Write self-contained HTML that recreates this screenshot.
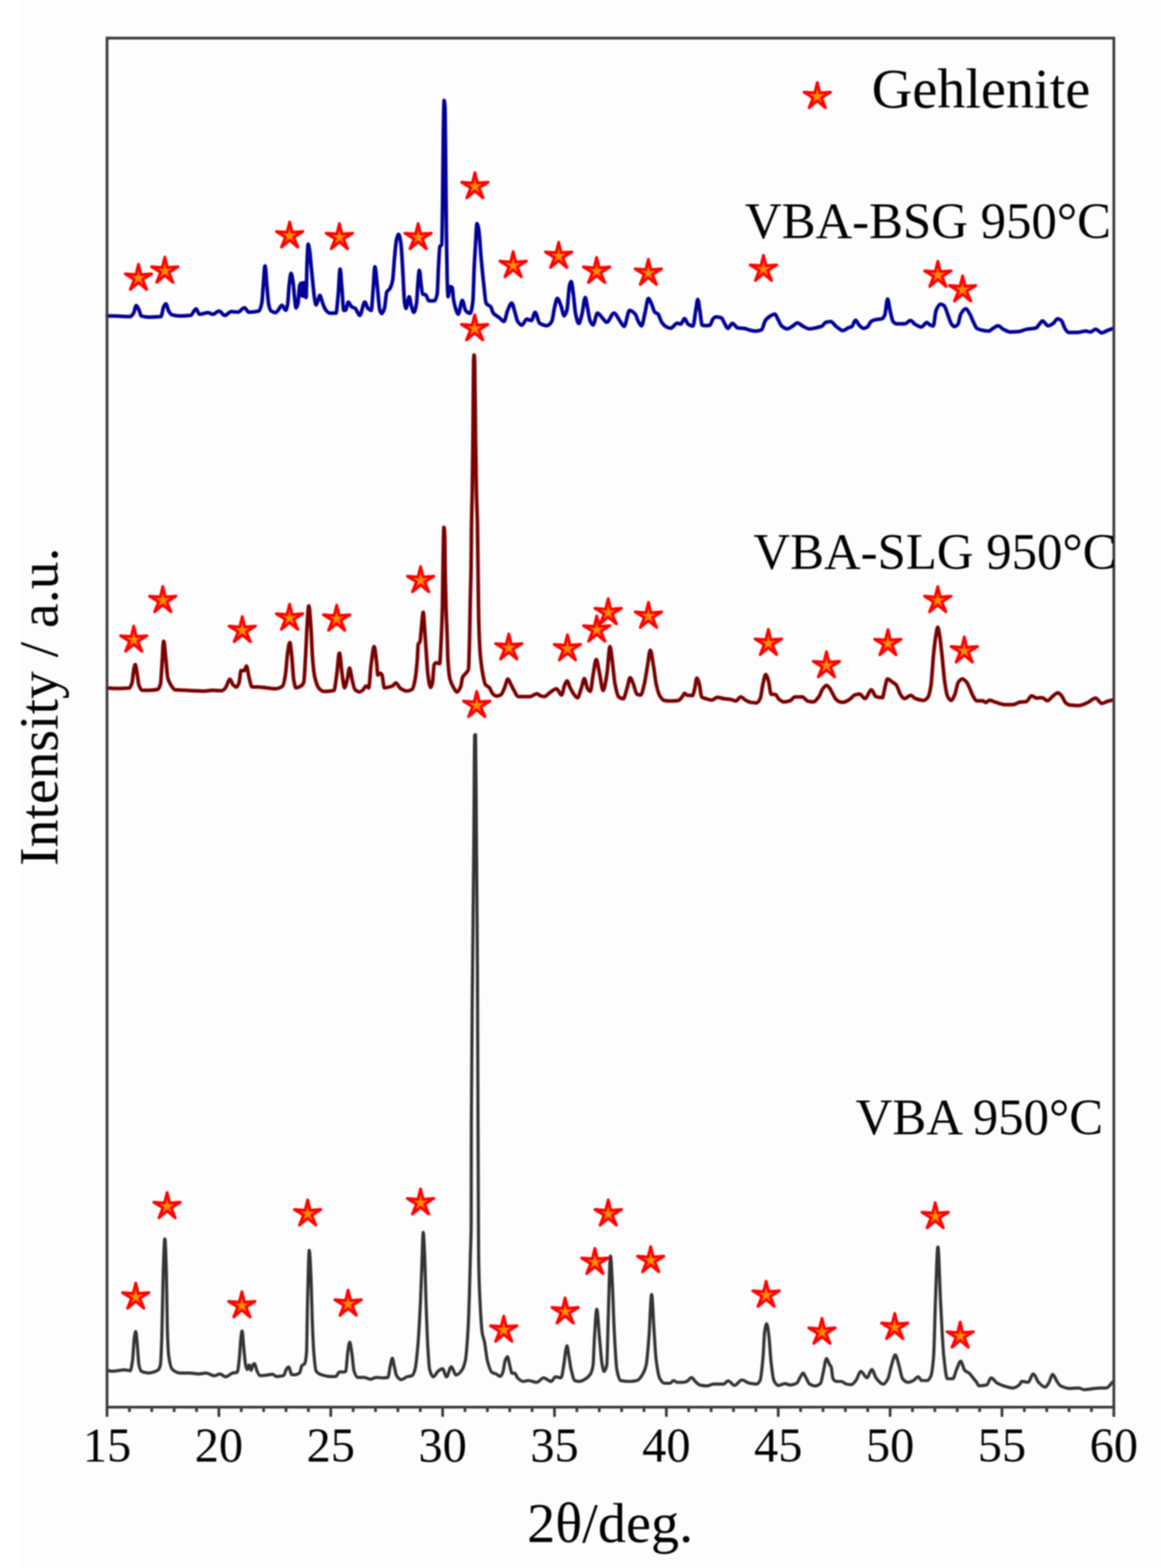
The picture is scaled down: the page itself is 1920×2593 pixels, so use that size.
<!DOCTYPE html>
<html><head><meta charset="utf-8"><title>XRD patterns</title>
<style>html,body{margin:0;padding:0;background:#fdfdfd}svg{display:block;filter:blur(1.1px);font-family:"Liberation Serif","Times New Roman",serif;fill:#000}</style>
</head><body>
<svg width="1920" height="2593" viewBox="0 0 1920 2593"><rect width="1920" height="2593" fill="#fdfdfd"/><rect width="36" height="2593" fill="#ffffff"/><path d="M177.3,522.5 C180.93,522.5 184.57,522.5 188.2,522.5 C192.13,522.5 196.07,522.9 200.0,523.0 C205.13,523.2 210.27,523.5 215.4,523.5 C217.20,523.5 219.00,520.7 220.8,518.0 C222.33,515.7 223.87,505.3 225.4,505.3 C226.90,505.3 228.40,509.5 229.9,512.5 C231.13,515.0 232.37,522.1 233.6,522.5 C237.83,523.9 242.07,524.4 246.3,524.4 C252.93,524.4 259.57,524.2 266.2,523.5 C267.73,523.3 269.27,509.7 270.8,507.0 C272.00,504.9 273.20,502.6 274.4,502.6 C275.93,502.6 277.47,511.9 279.0,514.4 C280.80,517.3 282.60,520.2 284.4,520.7 C288.63,521.9 292.87,522.5 297.1,522.5 C303.17,522.5 309.23,522.2 315.3,521.6 C318.30,521.3 321.30,510.7 324.3,510.7 C326.13,510.7 327.97,519.8 329.8,519.8 C334.63,519.8 339.47,517.1 344.3,517.1 C346.73,517.1 349.17,519.8 351.6,519.8 C355.23,519.8 358.87,514.4 362.5,514.4 C365.53,514.4 368.57,521.6 371.6,521.6 C375.23,521.6 378.87,515.3 382.5,515.3 C386.13,515.3 389.77,516.2 393.4,516.2 C397.00,516.2 400.60,508.9 404.2,508.9 C406.63,508.9 409.07,516.2 411.5,516.2 C416.97,516.2 422.43,515.8 427.9,514.4 C429.60,514.0 431.30,509.0 433.0,501.0 C433.83,497.1 434.67,479.6 435.5,470.0 C436.43,459.2 437.37,439.8 438.3,439.8 C439.30,439.8 440.30,460.3 441.3,470.8 C442.33,481.7 443.37,499.5 444.4,504.0 C445.67,509.5 446.93,513.0 448.2,514.0 C450.70,515.9 453.20,517.0 455.7,517.0 C457.13,517.0 458.57,514.5 460.0,513.0 C462.10,510.7 464.20,504.8 466.3,504.8 C468.37,504.8 470.43,513.0 472.5,513.0 C473.57,513.0 474.63,508.5 475.7,503.0 C476.53,498.7 477.37,478.7 478.2,471.6 C479.23,462.8 480.27,452.1 481.3,452.1 C482.37,452.1 483.43,459.0 484.5,465.3 C485.33,470.3 486.17,483.2 487.0,490.4 C487.83,497.6 488.67,509.2 489.5,509.2 C490.53,509.2 491.57,506.4 492.6,502.9 C493.67,499.3 494.73,474.6 495.8,471.6 C496.40,469.9 497.00,468.4 497.6,468.4 C498.13,468.4 498.67,489.0 499.2,489.0 C499.73,489.0 500.27,467.8 500.8,467.8 C501.33,467.8 501.87,490.0 502.4,490.0 C502.87,490.0 503.33,467.2 503.8,467.2 C504.27,467.2 504.73,475.3 505.2,480.0 C505.57,483.7 505.93,492.0 506.3,492.0 C506.73,492.0 507.17,451.1 507.6,440.0 C508.27,422.9 508.93,403.8 509.6,403.8 C510.43,403.8 511.27,409.8 512.1,415.0 C512.93,420.2 513.77,431.8 514.6,440.2 C515.63,450.6 516.67,461.9 517.7,471.6 C518.53,479.4 519.37,488.7 520.2,493.5 C521.03,498.3 521.87,504.2 522.7,504.2 C523.77,504.2 524.83,499.3 525.9,496.6 C526.93,494.0 527.97,488.5 529.0,488.5 C530.03,488.5 531.07,493.7 532.1,496.6 C533.17,499.5 534.23,503.6 535.3,506.0 C536.87,509.5 538.43,512.6 540.0,514.2 C541.67,515.9 543.33,517.7 545.0,517.7 C548.53,517.7 552.07,517.7 555.6,517.7 C556.87,517.7 558.13,499.2 559.4,486.0 C560.40,475.5 561.40,445.0 562.4,445.0 C563.37,445.0 564.33,464.3 565.3,475.0 C566.37,486.8 567.43,513.2 568.5,513.2 C569.50,513.2 570.50,513.1 571.5,513.0 C573.00,512.8 574.50,499.5 576.0,499.5 C577.77,499.5 579.53,505.7 581.3,507.0 C583.33,508.5 585.37,508.5 587.4,510.0 C589.93,511.8 592.47,521.5 595.0,521.5 C597.77,521.5 600.53,499.5 603.3,499.5 C605.07,499.5 606.83,508.4 608.6,510.0 C610.37,511.6 612.13,513.2 613.9,513.2 C614.93,513.2 615.97,492.1 617.0,480.0 C618.00,468.3 619.00,441.3 620.0,441.3 C621.27,441.3 622.53,460.1 623.8,471.0 C625.27,483.6 626.73,509.1 628.2,513.2 C629.23,516.1 630.27,518.5 631.3,518.5 C632.80,518.5 634.30,514.6 635.8,510.0 C637.07,506.2 638.33,485.6 639.6,483.0 C641.37,479.4 643.13,479.9 644.9,476.9 C646.40,474.4 647.90,470.8 649.4,463.2 C650.43,458.0 651.47,435.9 652.5,425.4 C653.67,413.5 654.83,399.1 656.0,395.0 C657.10,391.1 658.20,387.6 659.3,387.6 C660.53,387.6 661.77,394.7 663.0,402.7 C664.03,409.4 665.07,431.5 666.1,448.0 C667.10,464.0 668.10,494.8 669.1,501.0 C669.87,505.8 670.63,510.0 671.4,510.0 C673.20,510.0 675.00,490.7 676.8,490.7 C677.87,490.7 678.93,501.4 680.0,505.0 C681.47,509.9 682.93,516.5 684.4,516.5 C685.90,516.5 687.40,510.2 688.9,501.3 C689.60,497.1 690.30,478.0 691.0,470.0 C691.83,460.4 692.67,446.9 693.5,446.9 C694.50,446.9 695.50,463.8 696.5,471.0 C697.27,476.5 698.03,485.7 698.8,486.2 C700.53,487.3 702.27,486.8 704.0,487.7 C705.77,488.6 707.53,497.5 709.3,497.5 C712.33,497.5 715.37,497.5 718.4,497.5 C719.93,497.5 721.47,493.6 723.0,486.2 C723.73,482.7 724.47,453.3 725.2,440.8 C725.97,427.7 726.73,408.8 727.5,407.5 C728.50,405.9 729.50,406.8 730.5,405.0 C731.00,404.1 731.50,362.7 732.0,330.0 C732.40,303.8 732.80,243.0 733.2,220.0 C733.63,195.1 734.07,166.0 734.5,166.0 C735.00,166.0 735.50,171.4 736.0,180.0 C736.43,187.5 736.87,262.1 737.3,300.0 C737.70,335.0 738.10,372.8 738.5,400.0 C738.87,424.9 739.23,453.1 739.6,463.5 C740.10,477.7 740.60,490.7 741.1,490.7 C742.13,490.7 743.17,474.0 744.2,474.0 C745.43,474.0 746.67,474.5 747.9,475.6 C748.60,476.2 749.30,490.7 750.0,495.0 C751.07,501.5 752.13,505.7 753.2,509.0 C754.73,513.7 756.27,519.5 757.8,519.5 C760.07,519.5 762.33,496.8 764.6,496.8 C766.37,496.8 768.13,511.5 769.9,513.4 C772.40,516.1 774.90,518.0 777.4,518.0 C778.93,518.0 780.47,510.5 782.0,498.3 C782.77,492.2 783.53,456.4 784.3,440.8 C785.03,425.9 785.77,414.5 786.5,403.0 C787.27,390.9 788.03,369.7 788.8,369.7 C789.80,369.7 790.80,375.0 791.8,380.3 C793.07,387.1 794.33,411.8 795.6,425.7 C797.10,442.1 798.60,457.7 800.1,471.0 C801.37,482.2 802.63,499.3 803.9,501.3 C806.43,505.4 808.97,504.2 811.5,507.4 C813.00,509.3 814.50,516.2 816.0,518.0 C819.30,522.0 822.60,522.9 825.9,525.5 C828.40,527.5 830.90,531.6 833.4,531.6 C835.43,531.6 837.47,518.0 839.5,513.4 C841.77,508.3 844.03,501.3 846.3,501.3 C848.07,501.3 849.83,511.0 851.6,516.5 C853.10,521.1 854.60,529.4 856.1,531.6 C858.37,534.9 860.63,537.7 862.9,537.7 C865.70,537.7 868.50,527.8 871.3,527.8 C873.80,527.8 876.30,530.1 878.8,530.1 C880.83,530.1 882.87,516.5 884.9,516.5 C887.43,516.5 889.97,533.1 892.5,534.6 C896.53,537.0 900.57,538.4 904.6,538.4 C907.27,538.4 909.93,535.6 912.6,531.3 C914.10,528.9 915.60,514.6 917.1,508.6 C918.60,502.6 920.10,493.5 921.6,493.5 C923.63,493.5 925.67,500.6 927.7,505.6 C929.47,509.9 931.23,522.3 933.0,522.3 C934.50,522.3 936.00,518.2 937.5,513.2 C939.03,508.1 940.57,475.8 942.1,470.8 C942.93,468.1 943.77,465.5 944.6,465.5 C945.77,465.5 946.93,477.8 948.1,486.0 C949.37,494.9 950.63,513.4 951.9,519.2 C953.67,527.3 955.43,535.1 957.2,535.1 C958.97,535.1 960.73,525.9 962.5,519.2 C964.27,512.5 966.03,492.0 967.8,492.0 C969.07,492.0 970.33,502.7 971.6,508.6 C973.10,515.6 974.60,528.1 976.1,531.3 C977.63,534.5 979.17,537.4 980.7,537.4 C983.20,537.4 985.70,517.7 988.2,517.7 C990.73,517.7 993.27,522.8 995.8,525.3 C998.33,527.8 1000.87,532.8 1003.4,532.8 C1007.43,532.8 1011.47,517.7 1015.5,517.7 C1018.53,517.7 1021.57,525.8 1024.6,529.8 C1027.10,533.1 1029.60,539.7 1032.1,539.7 C1035.13,539.7 1038.17,513.2 1041.2,513.2 C1044.23,513.2 1047.27,516.0 1050.3,519.2 C1052.30,521.3 1054.30,529.5 1056.3,532.8 C1057.83,535.3 1059.37,538.9 1060.9,538.9 C1062.90,538.9 1064.90,524.2 1066.9,516.2 C1068.67,509.1 1070.43,493.5 1072.2,493.5 C1073.97,493.5 1075.73,499.0 1077.5,502.6 C1079.27,506.2 1081.03,514.6 1082.8,516.2 C1084.57,517.8 1086.33,517.6 1088.1,519.2 C1090.13,521.0 1092.17,529.9 1094.2,532.8 C1096.70,536.3 1099.20,539.2 1101.7,540.4 C1104.23,541.6 1106.77,542.7 1109.3,542.7 C1112.83,542.7 1116.37,534.4 1119.9,534.4 C1121.90,534.4 1123.90,535.9 1125.9,535.9 C1127.93,535.9 1129.97,526.8 1132.0,526.8 C1134.00,526.8 1136.00,534.6 1138.0,535.9 C1140.67,537.7 1143.33,539.2 1146.0,539.2 C1147.53,539.2 1149.07,522.0 1150.6,513.5 C1151.70,507.4 1152.80,495.3 1153.9,495.3 C1155.07,495.3 1156.23,506.8 1157.4,513.5 C1158.67,520.7 1159.93,537.3 1161.2,537.7 C1163.20,538.3 1165.20,538.5 1167.2,538.5 C1169.47,538.5 1171.73,538.2 1174.0,537.7 C1175.77,537.3 1177.53,528.8 1179.3,527.1 C1180.83,525.6 1182.37,524.1 1183.9,524.1 C1186.93,524.1 1189.97,524.6 1193.0,525.6 C1194.50,526.1 1196.00,530.7 1197.5,533.2 C1199.53,536.6 1201.57,543.0 1203.6,543.0 C1206.10,543.0 1208.60,534.7 1211.1,534.7 C1214.13,534.7 1217.17,541.9 1220.2,542.3 C1223.73,542.7 1227.27,542.6 1230.8,543.0 C1233.83,543.3 1236.87,545.4 1239.9,546.0 C1243.43,546.7 1246.97,547.5 1250.5,547.5 C1253.53,547.5 1256.57,546.7 1259.6,545.3 C1261.60,544.4 1263.60,532.9 1265.6,530.1 C1267.63,527.2 1269.67,525.4 1271.7,524.1 C1274.97,522.0 1278.23,519.6 1281.5,519.6 C1283.27,519.6 1285.03,525.5 1286.8,528.6 C1288.80,532.1 1290.80,537.6 1292.8,539.2 C1295.83,541.7 1298.87,543.8 1301.9,543.8 C1304.93,543.8 1307.97,541.0 1311.0,539.2 C1313.53,537.7 1316.07,533.9 1318.6,533.9 C1321.60,533.9 1324.60,537.7 1327.6,539.2 C1331.13,541.0 1334.67,543.8 1338.2,543.8 C1342.77,543.8 1347.33,542.5 1351.9,541.5 C1354.40,540.9 1356.90,540.4 1359.4,539.2 C1361.43,538.2 1363.47,533.8 1365.5,533.2 C1368.27,532.3 1371.03,531.7 1373.8,531.7 C1376.57,531.7 1379.33,536.9 1382.1,539.2 C1383.40,540.3 1384.70,541.4 1386.0,542.3 C1388.53,544.0 1391.07,546.8 1393.6,546.8 C1396.63,546.8 1399.67,543.6 1402.7,542.3 C1404.73,541.4 1406.77,541.3 1408.8,540.0 C1410.80,538.8 1412.80,529.4 1414.8,529.4 C1416.83,529.4 1418.87,535.8 1420.9,537.7 C1423.40,540.1 1425.90,543.0 1428.4,543.0 C1430.43,543.0 1432.47,541.9 1434.5,540.7 C1436.50,539.5 1438.50,533.0 1440.5,531.7 C1443.03,530.0 1445.57,529.1 1448.1,528.6 C1451.63,527.8 1455.17,528.1 1458.7,527.1 C1460.20,526.7 1461.70,524.3 1463.2,521.1 C1464.73,517.8 1466.27,494.6 1467.8,494.6 C1469.30,494.6 1470.80,508.9 1472.3,515.0 C1473.83,521.2 1475.37,530.0 1476.9,531.7 C1478.90,533.9 1480.90,535.4 1482.9,535.4 C1487.43,535.4 1491.97,535.4 1496.5,535.4 C1499.53,535.4 1502.57,530.1 1505.6,530.1 C1508.13,530.1 1510.67,534.8 1513.2,536.2 C1516.73,538.2 1520.27,540.7 1523.8,540.7 C1526.80,540.7 1529.80,533.2 1532.8,533.2 C1534.33,533.2 1535.87,536.2 1537.4,537.0 C1539.40,538.0 1541.40,539.2 1543.4,539.2 C1544.93,539.2 1546.47,517.1 1548.0,513.5 C1550.50,507.6 1553.00,502.9 1555.5,502.9 C1557.53,502.9 1559.57,504.2 1561.6,505.9 C1563.63,507.6 1565.67,516.0 1567.7,521.1 C1569.70,526.1 1571.70,533.7 1573.7,536.2 C1575.20,538.1 1576.70,540.0 1578.2,540.0 C1580.23,540.0 1582.27,538.4 1584.3,536.2 C1585.80,534.5 1587.30,522.3 1588.8,519.6 C1591.60,514.6 1594.40,510.5 1597.2,510.5 C1599.47,510.5 1601.73,515.8 1604.0,519.6 C1606.00,523.0 1608.00,529.3 1610.0,533.2 C1611.93,537.0 1613.87,542.1 1615.8,543.2 C1618.70,544.9 1621.60,545.5 1624.5,546.1 C1627.90,546.8 1631.30,547.5 1634.7,547.5 C1637.13,547.5 1639.57,544.5 1642.0,543.2 C1644.90,541.6 1647.80,538.8 1650.7,538.8 C1653.60,538.8 1656.50,543.2 1659.4,544.6 C1663.27,546.5 1667.13,549.0 1671.0,549.0 C1675.83,549.0 1680.67,548.7 1685.5,548.2 C1689.40,547.8 1693.30,545.4 1697.2,544.6 C1702.53,543.6 1707.87,543.9 1713.2,542.4 C1715.13,541.9 1717.07,538.0 1719.0,535.9 C1720.67,534.1 1722.33,530.8 1724.0,530.8 C1727.17,530.8 1730.33,538.8 1733.5,538.8 C1736.40,538.8 1739.30,536.5 1742.2,534.4 C1744.37,532.9 1746.53,527.2 1748.7,527.2 C1750.90,527.2 1753.10,528.5 1755.3,530.1 C1757.23,531.5 1759.17,540.3 1761.1,543.2 C1763.03,546.1 1764.97,549.7 1766.9,549.7 C1771.73,549.7 1776.57,549.7 1781.4,549.7 C1786.27,549.7 1791.13,547.5 1796.0,547.5 C1798.40,547.5 1800.80,549.0 1803.2,549.0 C1806.10,549.0 1809.00,544.6 1811.9,544.6 C1815.30,544.6 1818.70,550.4 1822.1,550.4 C1825.50,550.4 1828.90,547.4 1832.3,546.1 C1835.20,545.0 1838.10,544.2 1841.0,543.2" fill="none" stroke="#000096" stroke-width="6.0" stroke-linejoin="round" stroke-linecap="round"/><path d="M177.6,1137.7 C182.63,1138.0 187.67,1138.5 192.7,1138.5 C199.77,1138.5 206.83,1138.4 213.9,1137.7 C215.40,1137.6 216.90,1133.5 218.4,1128.6 C219.43,1125.2 220.47,1110.3 221.5,1105.9 C222.23,1102.8 222.97,1099.1 223.7,1099.1 C224.70,1099.1 225.70,1108.0 226.7,1113.5 C227.73,1119.1 228.77,1130.5 229.8,1133.2 C231.57,1137.9 233.33,1141.5 235.1,1141.5 C238.63,1141.5 242.17,1141.5 245.7,1141.5 C250.73,1141.5 255.77,1141.1 260.8,1140.0 C262.30,1139.7 263.80,1136.8 265.3,1131.7 C266.33,1128.2 267.37,1104.7 268.4,1090.8 C269.13,1080.9 269.87,1060.5 270.6,1060.5 C271.87,1060.5 273.13,1079.5 274.4,1090.8 C275.40,1099.8 276.40,1117.2 277.4,1121.1 C278.93,1127.1 280.47,1129.2 282.0,1131.7 C284.50,1135.7 287.00,1140.4 289.5,1140.7 C295.07,1141.3 300.63,1141.2 306.2,1141.5 C311.23,1141.8 316.27,1142.1 321.3,1142.3 C326.37,1142.5 331.43,1143.0 336.5,1143.0 C341.53,1143.0 346.57,1141.5 351.6,1141.5 C356.63,1141.5 361.67,1142.3 366.7,1142.3 C368.73,1142.3 370.77,1139.9 372.8,1137.7 C375.30,1135.0 377.80,1123.3 380.3,1123.3 C381.83,1123.3 383.37,1130.0 384.9,1131.7 C386.90,1133.9 388.90,1136.2 390.9,1136.2 C392.43,1136.2 393.97,1132.8 395.5,1128.6 C396.50,1125.8 397.50,1109.0 398.5,1109.0 C400.27,1109.0 402.03,1109.0 403.8,1109.0 C405.07,1109.0 406.33,1101.4 407.6,1101.4 C409.10,1101.4 410.60,1115.5 412.1,1121.1 C413.63,1126.8 415.17,1136.0 416.7,1136.0 C419.50,1136.0 422.30,1135.9 425.1,1135.9 C430.17,1135.9 435.23,1136.9 440.3,1137.4 C445.33,1137.9 450.37,1138.9 455.4,1138.9 C459.43,1138.9 463.47,1137.5 467.5,1134.4 C469.00,1133.2 470.50,1124.9 472.0,1116.2 C473.27,1108.8 474.53,1086.3 475.8,1078.4 C476.97,1071.2 478.13,1062.5 479.3,1062.5 C480.40,1062.5 481.50,1076.0 482.6,1085.9 C483.63,1095.2 484.67,1117.9 485.7,1123.8 C486.93,1130.9 488.17,1137.4 489.4,1137.4 C492.20,1137.4 495.00,1136.1 497.8,1134.4 C499.30,1133.5 500.80,1132.2 502.3,1128.3 C503.30,1125.7 504.30,1102.3 505.3,1085.9 C506.33,1069.0 507.37,1039.4 508.4,1025.4 C509.13,1015.4 509.87,1001.9 510.6,1001.9 C511.87,1001.9 513.13,1023.1 514.4,1040.5 C515.17,1051.1 515.93,1076.3 516.7,1085.9 C517.97,1101.8 519.23,1113.8 520.5,1119.2 C523.00,1129.9 525.50,1136.5 528.0,1138.9 C530.53,1141.4 533.07,1143.4 535.6,1143.4 C541.17,1143.4 546.73,1143.1 552.3,1141.9 C553.80,1141.6 555.30,1126.2 556.8,1116.2 C558.30,1106.2 559.80,1079.9 561.3,1079.9 C562.83,1079.9 564.37,1106.2 565.9,1116.2 C567.17,1124.4 568.43,1137.4 569.7,1137.4 C571.20,1137.4 572.70,1129.5 574.2,1123.8 C575.47,1119.0 576.73,1104.8 578.0,1104.8 C579.50,1104.8 581.00,1119.2 582.5,1125.0 C584.03,1130.9 585.57,1139.0 587.1,1140.4 C589.60,1142.7 592.10,1144.2 594.6,1144.2 C596.63,1144.2 598.67,1142.2 600.7,1140.4 C602.20,1139.1 603.70,1134.4 605.2,1134.4 C606.73,1134.4 608.27,1137.4 609.8,1137.4 C611.03,1137.4 612.27,1110.4 613.5,1101.1 C615.27,1087.8 617.03,1069.3 618.8,1069.3 C620.07,1069.3 621.33,1083.5 622.6,1093.5 C623.37,1099.5 624.13,1116.2 624.9,1116.2 C626.17,1116.2 627.43,1113.2 628.7,1113.2 C629.70,1113.2 630.70,1114.5 631.7,1116.2 C632.97,1118.3 634.23,1137.4 635.5,1137.4 C638.53,1137.4 641.57,1136.6 644.6,1135.9 C646.40,1135.5 648.20,1134.8 650.0,1133.7 C651.50,1132.8 653.00,1129.2 654.5,1129.2 C657.03,1129.2 659.57,1136.5 662.1,1138.2 C665.63,1140.5 669.17,1142.8 672.7,1142.8 C675.73,1142.8 678.77,1141.8 681.8,1139.8 C683.30,1138.8 684.80,1132.0 686.3,1124.6 C687.57,1118.3 688.83,1106.7 690.1,1091.3 C690.60,1085.2 691.10,1067.1 691.6,1065.6 C692.60,1062.6 693.60,1063.8 694.6,1061.1 C695.37,1059.0 696.13,1045.5 696.9,1038.4 C697.90,1029.2 698.90,1012.6 699.9,1012.6 C700.67,1012.6 701.43,1028.6 702.2,1038.4 C703.13,1050.3 704.07,1066.8 705.0,1080.0 C705.83,1091.8 706.67,1107.6 707.5,1114.0 C709.00,1125.5 710.50,1136.7 712.0,1136.7 C713.03,1136.7 714.07,1133.2 715.1,1129.2 C716.10,1125.3 717.10,1100.7 718.1,1098.9 C719.10,1097.1 720.10,1095.9 721.1,1095.9 C723.13,1095.9 725.17,1097.4 727.2,1097.4 C727.70,1097.4 728.20,1085.0 728.7,1076.2 C729.70,1058.6 730.70,1040.4 731.7,1000.5 C732.00,988.5 732.30,959.2 732.6,940.0 C732.90,920.8 733.20,894.3 733.5,885.0 C733.70,878.8 733.90,872.0 734.1,872.0 C734.50,872.0 734.90,876.1 735.3,882.0 C735.70,887.9 736.10,940.6 736.5,960.0 C736.93,981.0 737.37,997.1 737.8,1010.0 C738.30,1024.8 738.80,1032.5 739.3,1045.9 C739.80,1059.3 740.30,1083.3 740.8,1091.3 C741.80,1107.3 742.80,1117.3 743.8,1121.6 C745.83,1130.3 747.87,1133.3 749.9,1136.7 C751.90,1140.0 753.90,1144.3 755.9,1144.3 C757.93,1144.3 759.97,1140.2 762.0,1135.2 C763.00,1132.7 764.00,1122.2 765.0,1120.1 C767.03,1115.7 769.07,1115.4 771.1,1112.5 C772.33,1110.7 773.57,1110.8 774.8,1106.5 C775.33,1104.6 775.87,1080.5 776.4,1061.1 C776.90,1042.9 777.40,1008.0 777.9,985.4 C778.27,968.8 778.63,961.5 779.0,940.0 C779.27,924.4 779.53,881.6 779.8,865.0 C780.20,840.1 780.60,833.6 781.0,811.0 C781.40,788.4 781.80,757.4 782.2,720.0 C782.53,688.8 782.87,609.3 783.2,600.0 C783.47,592.6 783.73,587.0 784.0,587.0 C784.33,587.0 784.67,592.8 785.0,600.0 C785.47,610.1 785.93,685.5 786.4,720.0 C786.87,754.5 787.33,790.9 787.8,811.0 C788.37,835.5 788.93,838.8 789.5,865.0 C789.83,880.4 790.17,914.9 790.5,940.0 C790.83,965.1 791.17,1001.8 791.5,1015.7 C792.27,1047.7 793.03,1065.9 793.8,1076.2 C795.30,1096.4 796.80,1105.8 798.3,1114.0 C799.80,1122.2 801.30,1130.3 802.8,1132.2 C804.83,1134.8 806.87,1134.6 808.9,1136.7 C810.93,1138.8 812.97,1145.4 815.0,1147.3 C817.00,1149.2 819.00,1151.1 821.0,1151.1 C823.53,1151.1 826.07,1150.2 828.6,1148.8 C830.60,1147.7 832.60,1141.2 834.6,1136.7 C836.37,1132.7 838.13,1123.1 839.9,1123.1 C841.67,1123.1 843.43,1128.9 845.2,1132.2 C846.73,1135.0 848.27,1138.7 849.8,1141.3 C852.30,1145.5 854.80,1151.9 857.3,1151.9 C863.87,1151.9 870.43,1151.9 877.0,1151.9 C880.53,1151.9 884.07,1147.3 887.6,1147.3 C890.13,1147.3 892.67,1150.6 895.2,1151.1 C897.00,1151.5 898.80,1151.8 900.6,1151.8 C903.63,1151.8 906.67,1147.0 909.7,1145.0 C913.23,1142.7 916.77,1138.9 920.3,1138.9 C923.07,1138.9 925.83,1149.5 928.6,1149.5 C930.37,1149.5 932.13,1136.8 933.9,1132.8 C935.17,1130.0 936.43,1126.0 937.7,1126.0 C939.47,1126.0 941.23,1134.0 943.0,1137.4 C945.00,1141.3 947.00,1145.5 949.0,1148.0 C951.03,1150.6 953.07,1154.0 955.1,1154.0 C957.10,1154.0 959.10,1144.5 961.1,1138.9 C962.87,1134.0 964.63,1122.3 966.4,1122.3 C968.17,1122.3 969.93,1136.3 971.7,1138.9 C973.23,1141.2 974.77,1143.4 976.3,1143.4 C977.80,1143.4 979.30,1124.3 980.8,1116.2 C982.57,1106.7 984.33,1090.5 986.1,1090.5 C987.87,1090.5 989.63,1105.2 991.4,1113.2 C993.40,1122.2 995.40,1141.9 997.4,1141.9 C999.43,1141.9 1001.47,1127.9 1003.5,1116.2 C1005.27,1106.0 1007.03,1069.3 1008.8,1069.3 C1010.07,1069.3 1011.33,1084.4 1012.6,1093.5 C1014.10,1104.3 1015.60,1123.8 1017.1,1131.3 C1019.13,1141.5 1021.17,1151.0 1023.2,1152.5 C1025.70,1154.3 1028.20,1155.5 1030.7,1155.5 C1032.73,1155.5 1034.77,1145.1 1036.8,1138.9 C1038.57,1133.5 1040.33,1120.7 1042.1,1120.7 C1043.87,1120.7 1045.63,1127.2 1047.4,1131.3 C1049.40,1135.9 1051.40,1147.1 1053.4,1148.0 C1055.43,1148.9 1057.47,1149.5 1059.5,1149.5 C1061.50,1149.5 1063.50,1139.3 1065.5,1131.3 C1067.27,1124.3 1069.03,1111.1 1070.8,1101.1 C1072.33,1092.4 1073.87,1075.3 1075.4,1075.3 C1077.17,1075.3 1078.93,1091.1 1080.7,1101.1 C1082.20,1109.6 1083.70,1124.6 1085.2,1131.3 C1087.23,1140.3 1089.27,1147.8 1091.3,1151.0 C1093.80,1154.9 1096.30,1158.3 1098.8,1158.6 C1102.33,1159.1 1105.87,1159.3 1109.4,1159.3 C1113.43,1159.3 1117.47,1159.1 1121.5,1158.6 C1124.03,1158.3 1126.57,1154.1 1129.1,1151.0 C1130.10,1149.8 1131.10,1146.5 1132.1,1146.5 C1133.43,1146.5 1134.77,1149.3 1136.1,1149.5 C1139.10,1150.0 1142.10,1150.2 1145.1,1150.2 C1146.37,1150.2 1147.63,1143.6 1148.9,1138.9 C1150.07,1134.5 1151.23,1121.5 1152.4,1121.5 C1153.77,1121.5 1155.13,1126.7 1156.5,1131.3 C1157.77,1135.6 1159.03,1151.5 1160.3,1152.5 C1162.80,1154.6 1165.30,1154.7 1167.8,1155.5 C1170.83,1156.4 1173.87,1157.8 1176.9,1157.8 C1179.93,1157.8 1182.97,1153.3 1186.0,1153.3 C1190.03,1153.3 1194.07,1154.9 1198.1,1155.5 C1202.13,1156.1 1206.17,1156.3 1210.2,1157.1 C1212.23,1157.5 1214.27,1159.3 1216.3,1159.3 C1219.30,1159.3 1222.30,1152.5 1225.3,1152.5 C1227.83,1152.5 1230.37,1156.5 1232.9,1157.8 C1235.93,1159.4 1238.97,1161.2 1242.0,1161.6 C1245.03,1162.0 1248.07,1162.4 1251.1,1162.4 C1253.10,1162.4 1255.10,1159.4 1257.1,1155.5 C1258.63,1152.5 1260.17,1137.8 1261.7,1131.3 C1263.20,1125.0 1264.70,1115.4 1266.2,1115.4 C1267.70,1115.4 1269.20,1120.7 1270.7,1125.3 C1272.23,1130.0 1273.77,1147.7 1275.3,1148.0 C1277.80,1148.5 1280.30,1148.2 1282.8,1148.7 C1284.33,1149.0 1285.87,1154.2 1287.4,1155.5 C1290.43,1158.2 1293.47,1160.8 1296.5,1160.8 C1300.00,1160.8 1303.50,1159.8 1307.0,1158.6 C1309.53,1157.7 1312.07,1152.5 1314.6,1152.5 C1318.63,1152.5 1322.67,1152.5 1326.7,1152.5 C1329.73,1152.5 1332.77,1158.5 1335.8,1159.3 C1338.83,1160.1 1341.87,1160.8 1344.9,1160.8 C1347.93,1160.8 1350.97,1156.4 1354.0,1152.5 C1356.27,1149.6 1358.53,1141.7 1360.8,1138.9 C1362.80,1136.4 1364.80,1133.5 1366.8,1133.5 C1368.53,1133.5 1370.27,1136.0 1372.0,1138.0 C1373.67,1140.0 1375.33,1144.1 1377.0,1147.0 C1379.00,1150.5 1381.00,1155.3 1383.0,1157.0 C1385.33,1159.0 1387.67,1160.7 1390.0,1161.0 C1391.40,1161.2 1392.80,1161.3 1394.2,1161.3 C1397.73,1161.3 1401.27,1158.7 1404.8,1156.7 C1407.83,1155.0 1410.87,1150.1 1413.9,1149.2 C1416.43,1148.4 1418.97,1147.7 1421.5,1147.7 C1424.50,1147.7 1427.50,1155.2 1430.5,1155.2 C1434.03,1155.2 1437.57,1140.8 1441.1,1140.8 C1443.63,1140.8 1446.17,1151.5 1448.7,1152.2 C1452.23,1153.2 1455.77,1153.7 1459.3,1153.7 C1460.57,1153.7 1461.83,1143.3 1463.1,1138.6 C1464.60,1133.0 1466.10,1122.7 1467.6,1122.7 C1470.37,1122.7 1473.13,1126.1 1475.9,1128.0 C1477.93,1129.4 1479.97,1130.3 1482.0,1132.5 C1484.53,1135.2 1487.07,1145.8 1489.6,1149.2 C1491.60,1151.9 1493.60,1155.2 1495.6,1155.2 C1499.13,1155.2 1502.67,1149.9 1506.2,1149.9 C1508.73,1149.9 1511.27,1154.3 1513.8,1155.2 C1518.33,1156.8 1522.87,1158.2 1527.4,1158.2 C1529.93,1158.2 1532.47,1155.8 1535.0,1152.2 C1536.50,1150.1 1538.00,1143.0 1539.5,1134.0 C1541.00,1125.0 1542.50,1095.3 1544.0,1081.1 C1545.27,1069.1 1546.53,1058.0 1547.8,1050.8 C1548.80,1045.1 1549.80,1037.2 1550.8,1037.2 C1551.83,1037.2 1552.87,1044.9 1553.9,1050.8 C1555.13,1057.8 1556.37,1070.1 1557.6,1081.1 C1559.13,1094.8 1560.67,1115.8 1562.2,1126.5 C1563.70,1136.9 1565.20,1147.6 1566.7,1150.7 C1568.73,1154.9 1570.77,1158.2 1572.8,1158.2 C1574.80,1158.2 1576.80,1153.4 1578.8,1149.2 C1580.83,1144.9 1582.87,1130.6 1584.9,1128.0 C1587.17,1125.1 1589.43,1122.7 1591.7,1122.7 C1593.97,1122.7 1596.23,1125.4 1598.5,1128.0 C1600.27,1130.0 1602.03,1134.8 1603.8,1138.6 C1605.57,1142.4 1607.33,1147.7 1609.1,1150.7 C1611.13,1154.2 1613.17,1159.0 1615.2,1159.0 C1618.30,1159.0 1621.40,1158.8 1624.5,1158.8 C1626.43,1158.8 1628.37,1161.7 1630.3,1161.7 C1632.27,1161.7 1634.23,1158.1 1636.2,1158.1 C1640.07,1158.1 1643.93,1160.6 1647.8,1161.7 C1652.63,1163.0 1657.47,1165.3 1662.3,1165.3 C1666.67,1165.3 1671.03,1165.3 1675.4,1165.3 C1679.27,1165.3 1683.13,1161.5 1687.0,1161.0 C1690.40,1160.6 1693.80,1160.7 1697.2,1160.2 C1700.10,1159.8 1703.00,1150.8 1705.9,1150.8 C1708.80,1150.8 1711.70,1154.4 1714.6,1154.4 C1717.50,1154.4 1720.40,1153.7 1723.3,1153.7 C1726.20,1153.7 1729.10,1158.8 1732.0,1158.8 C1734.93,1158.8 1737.87,1153.7 1740.8,1151.5 C1743.70,1149.4 1746.60,1145.7 1749.5,1145.7 C1751.43,1145.7 1753.37,1148.1 1755.3,1150.1 C1757.70,1152.6 1760.10,1160.5 1762.5,1162.4 C1764.93,1164.3 1767.37,1165.9 1769.8,1166.1 C1774.63,1166.6 1779.47,1166.8 1784.3,1166.8 C1789.17,1166.8 1794.03,1163.8 1798.9,1161.7 C1803.23,1159.8 1807.57,1154.4 1811.9,1154.4 C1815.30,1154.4 1818.70,1163.2 1822.1,1163.2 C1825.50,1163.2 1828.90,1160.5 1832.3,1159.5 C1835.20,1158.6 1838.10,1158.0 1841.0,1157.3" fill="none" stroke="#7a0000" stroke-width="6.0" stroke-linejoin="round" stroke-linecap="round"/><path d="M177.6,2266.1 C180.10,2266.6 182.60,2267.6 185.1,2267.6 C192.17,2267.6 199.23,2265.3 206.3,2265.3 C209.33,2265.3 212.37,2266.8 215.4,2266.8 C216.67,2266.8 217.93,2258.1 219.2,2249.4 C220.20,2242.6 221.20,2217.8 222.2,2211.6 C222.97,2206.8 223.73,2201.8 224.5,2201.8 C225.23,2201.8 225.97,2212.2 226.7,2219.2 C227.73,2229.0 228.77,2252.2 229.8,2257.0 C231.07,2262.9 232.33,2266.9 233.6,2267.6 C237.63,2269.7 241.67,2270.6 245.7,2270.6 C250.73,2270.6 255.77,2269.1 260.8,2266.1 C262.30,2265.2 263.80,2263.0 265.3,2257.0 C266.07,2253.9 266.83,2232.8 267.6,2211.6 C268.37,2190.4 269.13,2128.1 269.9,2105.7 C270.80,2079.4 271.70,2048.9 272.6,2048.9 C273.47,2048.9 274.33,2076.7 275.2,2105.7 C275.70,2122.5 276.20,2181.1 276.7,2196.5 C277.47,2220.2 278.23,2236.5 279.0,2241.9 C281.00,2256.0 283.00,2262.8 285.0,2264.6 C289.53,2268.6 294.07,2270.6 298.6,2270.6 C303.67,2270.6 308.73,2270.6 313.8,2270.6 C318.83,2270.6 323.87,2272.1 328.9,2272.1 C332.93,2272.1 336.97,2270.6 341.0,2270.6 C345.53,2270.6 350.07,2275.2 354.6,2275.2 C357.63,2275.2 360.67,2272.1 363.7,2272.1 C366.73,2272.1 369.77,2276.7 372.8,2276.7 C376.83,2276.7 380.87,2271.7 384.9,2270.6 C387.43,2269.9 389.97,2270.2 392.5,2269.1 C393.73,2268.6 394.97,2253.8 396.2,2241.9 C396.97,2234.5 397.73,2217.7 398.5,2211.6 C399.10,2206.8 399.70,2201.0 400.3,2201.0 C401.20,2201.0 402.10,2218.0 403.0,2226.7 C404.03,2236.7 405.07,2252.9 406.1,2257.0 C407.10,2261.0 408.10,2264.6 409.1,2264.6 C410.10,2264.6 411.10,2257.0 412.1,2257.0 C413.13,2257.0 414.17,2266.1 415.2,2266.1 C416.20,2266.1 417.20,2258.2 418.2,2257.0 C419.00,2256.1 419.80,2255.2 420.6,2255.2 C422.10,2255.2 423.60,2264.3 425.1,2267.3 C426.63,2270.4 428.17,2274.8 429.7,2274.8 C433.23,2274.8 436.77,2274.4 440.3,2274.1 C443.83,2273.8 447.37,2272.6 450.9,2272.6 C452.90,2272.6 454.90,2276.3 456.9,2276.3 C460.93,2276.3 464.97,2275.9 469.0,2274.8 C470.53,2274.4 472.07,2266.3 473.6,2264.2 C474.83,2262.5 476.07,2260.5 477.3,2260.5 C479.07,2260.5 480.83,2273.3 482.6,2273.3 C484.63,2273.3 486.67,2273.3 488.7,2273.3 C490.97,2273.3 493.23,2272.2 495.5,2270.3 C496.77,2269.2 498.03,2259.6 499.3,2258.2 C500.80,2256.5 502.30,2257.1 503.8,2255.2 C504.83,2253.9 505.87,2249.0 506.9,2237.0 C507.40,2231.2 507.90,2183.7 508.4,2161.3 C508.90,2138.9 509.40,2115.1 509.9,2100.8 C510.40,2086.5 510.90,2067.5 511.4,2067.5 C512.40,2067.5 513.40,2093.9 514.4,2115.9 C515.17,2132.8 515.93,2172.7 516.7,2191.6 C517.47,2210.5 518.23,2227.8 519.0,2237.0 C520.23,2251.8 521.47,2265.5 522.7,2267.3 C525.50,2271.4 528.30,2272.4 531.1,2273.3 C536.13,2275.0 541.17,2276.3 546.2,2276.3 C549.23,2276.3 552.27,2276.3 555.3,2276.3 C557.30,2276.3 559.30,2268.8 561.3,2268.8 C563.83,2268.8 566.37,2268.8 568.9,2268.8 C569.90,2268.8 570.90,2268.2 571.9,2267.3 C572.93,2266.3 573.97,2244.1 575.0,2237.0 C576.10,2229.4 577.20,2219.6 578.3,2219.6 C579.47,2219.6 580.63,2229.8 581.8,2237.0 C583.03,2244.6 584.27,2263.6 585.5,2267.3 C587.53,2273.5 589.57,2277.9 591.6,2277.9 C595.13,2277.9 598.67,2277.9 602.2,2277.9 C605.73,2277.9 609.27,2280.9 612.8,2280.9 C615.83,2280.9 618.87,2277.9 621.9,2277.9 C625.93,2277.9 629.97,2278.6 634.0,2278.6 C636.50,2278.6 639.00,2278.4 641.5,2277.9 C642.77,2277.6 644.03,2265.1 645.3,2259.7 C646.47,2254.7 647.63,2246.1 648.8,2246.1 C649.90,2246.1 651.00,2255.2 652.1,2259.7 C653.37,2264.9 654.63,2273.1 655.9,2275.0 C658.47,2278.9 661.03,2281.5 663.6,2281.5 C666.63,2281.5 669.67,2277.9 672.7,2276.9 C675.73,2275.9 678.77,2276.2 681.8,2274.7 C683.30,2274.0 684.80,2270.0 686.3,2264.8 C687.83,2259.5 689.37,2244.0 690.9,2227.0 C692.40,2210.4 693.90,2182.8 695.4,2151.3 C696.17,2135.2 696.93,2110.1 697.7,2090.8 C698.43,2072.4 699.17,2037.8 699.9,2037.8 C700.67,2037.8 701.43,2058.9 702.2,2075.7 C702.97,2092.5 703.73,2129.3 704.5,2151.3 C705.50,2180.0 706.50,2210.2 707.5,2227.0 C708.50,2243.8 709.50,2261.1 710.5,2264.8 C712.53,2272.4 714.57,2276.9 716.6,2276.9 C719.13,2276.9 721.67,2269.9 724.2,2267.9 C726.70,2265.9 729.20,2263.3 731.7,2263.3 C733.97,2263.3 736.23,2276.9 738.5,2276.9 C741.03,2276.9 743.57,2260.3 746.1,2260.3 C748.87,2260.3 751.63,2273.9 754.4,2273.9 C757.43,2273.9 760.47,2270.3 763.5,2266.3 C765.53,2263.6 767.57,2259.0 769.6,2249.7 C771.10,2242.9 772.60,2222.2 774.1,2196.7 C774.87,2183.7 775.63,2161.0 776.4,2136.2 C776.90,2120.0 777.40,2096.5 777.9,2075.7 C778.33,2057.7 778.77,2061.9 779.2,2020.0 C779.30,2010.3 779.40,1880.5 779.5,1856.0 C780.17,1692.8 780.83,1674.9 781.5,1600.0 C782.17,1525.1 782.83,1474.0 783.5,1400.0 C784.00,1344.5 784.50,1215.0 785.0,1215.0 C785.50,1215.0 786.00,1215.0 786.5,1215.0 C787.00,1215.0 787.50,1335.9 788.0,1400.0 C788.50,1464.1 789.00,1510.4 789.5,1600.0 C789.83,1659.7 790.17,1774.7 790.5,1856.0 C790.73,1912.9 790.97,1972.4 791.2,2020.0 C791.30,2040.4 791.40,2068.9 791.5,2075.7 C792.27,2127.9 793.03,2135.5 793.8,2151.3 C795.03,2176.7 796.27,2196.6 797.5,2204.3 C798.77,2212.2 800.03,2213.2 801.3,2219.4 C802.83,2226.9 804.37,2243.7 805.9,2249.7 C808.40,2259.4 810.90,2267.7 813.4,2269.4 C815.93,2271.1 818.47,2271.2 821.0,2272.4 C823.03,2273.4 825.07,2276.2 827.1,2276.2 C828.60,2276.2 830.10,2273.0 831.6,2269.4 C832.87,2266.4 834.13,2252.8 835.4,2249.7 C836.67,2246.6 837.93,2243.6 839.2,2243.6 C840.43,2243.6 841.67,2252.8 842.9,2257.3 C844.17,2261.9 845.43,2270.9 846.7,2270.9 C848.23,2270.9 849.77,2270.9 851.3,2270.9 C852.80,2270.9 854.30,2277.0 855.8,2278.5 C858.83,2281.5 861.87,2284.5 864.9,2284.5 C867.93,2284.5 870.97,2283.0 874.0,2283.0 C878.53,2283.0 883.07,2286.0 887.6,2286.0 C891.43,2286.0 895.27,2278.5 899.1,2278.5 C901.10,2278.5 903.10,2280.5 905.1,2281.5 C907.13,2282.5 909.17,2284.5 911.2,2284.5 C913.73,2284.5 916.27,2276.9 918.8,2276.9 C921.80,2276.9 924.80,2278.5 927.8,2278.5 C929.33,2278.5 930.87,2266.2 932.4,2257.3 C933.40,2251.5 934.40,2239.7 935.4,2234.6 C936.17,2230.7 936.93,2225.5 937.7,2225.5 C938.70,2225.5 939.70,2236.4 940.7,2242.1 C941.97,2249.4 943.23,2259.6 944.5,2264.8 C946.50,2273.0 948.50,2282.2 950.5,2283.0 C953.03,2284.0 955.57,2284.5 958.1,2284.5 C961.63,2284.5 965.17,2282.2 968.7,2280.0 C971.23,2278.5 973.77,2276.5 976.3,2272.4 C977.80,2270.0 979.30,2266.6 980.8,2257.3 C981.57,2252.5 982.33,2223.8 983.1,2211.9 C984.37,2192.3 985.63,2165.0 986.9,2165.0 C988.40,2165.0 989.90,2196.5 991.4,2211.9 C992.90,2227.3 994.40,2249.9 995.9,2257.3 C996.93,2262.4 997.97,2267.9 999.0,2267.9 C1000.50,2267.9 1002.00,2264.6 1003.5,2257.3 C1004.27,2253.6 1005.03,2204.7 1005.8,2181.6 C1007.07,2143.4 1008.33,2077.2 1009.6,2077.2 C1010.60,2077.2 1011.60,2102.6 1012.6,2121.1 C1013.60,2139.6 1014.60,2177.5 1015.6,2196.7 C1017.10,2225.5 1018.60,2257.1 1020.1,2264.8 C1022.13,2275.3 1024.17,2282.5 1026.2,2283.0 C1031.23,2284.1 1036.27,2284.5 1041.3,2284.5 C1045.33,2284.5 1049.37,2283.9 1053.4,2283.0 C1055.93,2282.4 1058.47,2279.0 1061.0,2275.4 C1063.53,2271.8 1066.07,2267.6 1068.6,2257.3 C1070.10,2251.2 1071.60,2230.2 1073.1,2211.9 C1074.63,2193.2 1076.17,2140.7 1077.7,2140.7 C1078.93,2140.7 1080.17,2178.8 1081.4,2196.7 C1082.67,2215.1 1083.93,2240.1 1085.2,2249.7 C1087.23,2265.2 1089.27,2276.5 1091.3,2280.0 C1093.80,2284.3 1096.30,2287.5 1098.8,2287.5 C1101.83,2287.5 1104.87,2287.5 1107.9,2287.5 C1109.93,2287.5 1111.97,2283.0 1114.0,2283.0 C1116.00,2283.0 1118.00,2286.0 1120.0,2286.0 C1123.03,2286.0 1126.07,2286.0 1129.1,2286.0 C1131.43,2286.0 1133.77,2285.2 1136.1,2284.3 C1138.60,2283.4 1141.10,2278.2 1143.6,2278.2 C1145.63,2278.2 1147.67,2282.5 1149.7,2284.3 C1152.20,2286.6 1154.70,2289.8 1157.2,2290.4 C1161.23,2291.3 1165.27,2291.9 1169.3,2291.9 C1172.83,2291.9 1176.37,2288.8 1179.9,2288.8 C1185.47,2288.8 1191.03,2288.8 1196.6,2288.8 C1199.13,2288.8 1201.67,2283.5 1204.2,2283.5 C1207.70,2283.5 1211.20,2291.1 1214.7,2291.1 C1218.77,2291.1 1222.83,2282.0 1226.9,2282.0 C1230.93,2282.0 1234.97,2286.5 1239.0,2287.3 C1243.03,2288.1 1247.07,2288.8 1251.1,2288.8 C1253.10,2288.8 1255.10,2286.5 1257.1,2282.8 C1258.63,2280.0 1260.17,2262.8 1261.7,2246.5 C1262.70,2235.9 1263.70,2207.1 1264.7,2201.1 C1265.80,2194.5 1266.90,2189.0 1268.0,2189.0 C1269.17,2189.0 1270.33,2199.7 1271.5,2208.6 C1272.77,2218.2 1274.03,2243.4 1275.3,2254.0 C1276.80,2266.6 1278.30,2279.8 1279.8,2282.8 C1282.33,2287.8 1284.87,2291.1 1287.4,2291.1 C1290.93,2291.1 1294.47,2288.1 1298.0,2288.1 C1301.00,2288.1 1304.00,2290.4 1307.0,2290.4 C1310.57,2290.4 1314.13,2289.2 1317.7,2287.3 C1319.70,2286.2 1321.70,2279.7 1323.7,2276.7 C1325.20,2274.4 1326.70,2270.7 1328.2,2270.7 C1329.73,2270.7 1331.27,2275.6 1332.8,2278.2 C1334.80,2281.6 1336.80,2287.6 1338.8,2288.8 C1341.83,2290.6 1344.87,2291.9 1347.9,2291.9 C1350.93,2291.9 1353.97,2290.3 1357.0,2287.3 C1358.50,2285.8 1360.00,2275.4 1361.5,2269.2 C1363.27,2261.9 1365.03,2246.5 1366.8,2246.5 C1368.57,2246.5 1370.33,2254.2 1372.1,2257.0 C1372.90,2258.3 1373.70,2258.5 1374.5,2260.3 C1375.53,2262.6 1376.57,2278.5 1377.6,2280.0 C1379.60,2282.9 1381.60,2284.5 1383.6,2284.5 C1386.13,2284.5 1388.67,2284.5 1391.2,2284.5 C1394.23,2284.5 1397.27,2288.5 1400.3,2289.0 C1402.80,2289.4 1405.30,2289.8 1407.8,2289.8 C1410.33,2289.8 1412.87,2286.0 1415.4,2283.0 C1418.17,2279.7 1420.93,2267.9 1423.7,2267.9 C1427.00,2267.9 1430.30,2278.5 1433.6,2278.5 C1436.37,2278.5 1439.13,2264.8 1441.9,2264.8 C1444.17,2264.8 1446.43,2275.6 1448.7,2278.5 C1452.73,2283.6 1456.77,2289.0 1460.8,2289.0 C1463.33,2289.0 1465.87,2284.7 1468.4,2280.0 C1470.40,2276.3 1472.40,2263.7 1474.4,2257.3 C1476.43,2250.8 1478.47,2240.6 1480.5,2240.6 C1482.50,2240.6 1484.50,2250.9 1486.5,2257.3 C1488.53,2263.8 1490.57,2277.6 1492.6,2280.0 C1495.63,2283.6 1498.67,2286.0 1501.7,2286.0 C1504.70,2286.0 1507.70,2284.4 1510.7,2283.0 C1513.23,2281.8 1515.77,2276.9 1518.3,2276.9 C1520.33,2276.9 1522.37,2283.0 1524.4,2283.0 C1527.40,2283.0 1530.40,2283.0 1533.4,2283.0 C1535.43,2283.0 1537.47,2279.9 1539.5,2275.4 C1541.00,2272.1 1542.50,2260.7 1544.0,2242.1 C1545.00,2229.7 1546.00,2176.8 1547.0,2151.3 C1548.37,2116.4 1549.73,2062.0 1551.1,2062.0 C1552.53,2062.0 1553.97,2124.3 1555.4,2151.3 C1557.17,2184.6 1558.93,2225.6 1560.7,2242.1 C1562.70,2260.7 1564.70,2280.0 1566.7,2280.0 C1569.73,2280.0 1572.77,2280.0 1575.8,2280.0 C1577.83,2280.0 1579.87,2269.3 1581.9,2264.8 C1584.17,2259.8 1586.43,2251.2 1588.7,2251.2 C1590.97,2251.2 1593.23,2264.1 1595.5,2266.3 C1598.00,2268.7 1600.50,2268.8 1603.0,2270.9 C1605.03,2272.6 1607.07,2276.0 1609.1,2278.5 C1611.13,2281.0 1613.17,2283.1 1615.2,2286.0 C1616.37,2287.7 1617.53,2291.7 1618.7,2291.7 C1623.07,2291.7 1627.43,2291.2 1631.8,2290.2 C1634.23,2289.6 1636.67,2278.6 1639.1,2278.6 C1642.47,2278.6 1645.83,2285.4 1649.2,2287.3 C1652.60,2289.3 1656.00,2290.7 1659.4,2291.7 C1664.73,2293.3 1670.07,2295.3 1675.4,2295.3 C1678.77,2295.3 1682.13,2292.8 1685.5,2290.2 C1686.97,2289.1 1688.43,2284.4 1689.9,2284.4 C1693.30,2284.4 1696.70,2285.9 1700.1,2285.9 C1703.00,2285.9 1705.90,2272.1 1708.8,2272.1 C1711.70,2272.1 1714.60,2282.9 1717.5,2285.9 C1721.13,2289.6 1724.77,2293.9 1728.4,2293.9 C1730.57,2293.9 1732.73,2289.3 1734.9,2285.9 C1736.87,2282.8 1738.83,2272.8 1740.8,2272.8 C1743.20,2272.8 1745.60,2281.0 1748.0,2284.4 C1749.93,2287.1 1751.87,2290.7 1753.8,2291.7 C1759.13,2294.4 1764.47,2296.1 1769.8,2296.1 C1774.63,2296.1 1779.47,2295.3 1784.3,2295.3 C1787.23,2295.3 1790.17,2298.2 1793.1,2298.2 C1796.97,2298.2 1800.83,2297.2 1804.7,2296.8 C1809.53,2296.3 1814.37,2295.3 1819.2,2295.3 C1822.60,2295.3 1826.00,2295.3 1829.4,2295.3 C1832.77,2295.3 1836.13,2289.0 1839.5,2285.9" fill="none" stroke="#333333" stroke-width="5.2" stroke-linejoin="round" stroke-linecap="round"/><rect x="177" y="63" width="1665" height="2264" fill="none" stroke="#3a3a3a" stroke-width="4.5"/><path d="M177.0,2327 V2343 M214.0,2327 V2335 M251.0,2327 V2335 M288.0,2327 V2335 M325.0,2327 V2335 M362.0,2327 V2343 M399.0,2327 V2335 M436.0,2327 V2335 M473.0,2327 V2335 M510.0,2327 V2335 M547.0,2327 V2343 M584.0,2327 V2335 M621.0,2327 V2335 M658.0,2327 V2335 M695.0,2327 V2335 M732.0,2327 V2343 M769.0,2327 V2335 M806.0,2327 V2335 M843.0,2327 V2335 M880.0,2327 V2335 M917.0,2327 V2343 M954.0,2327 V2335 M991.0,2327 V2335 M1028.0,2327 V2335 M1065.0,2327 V2335 M1102.0,2327 V2343 M1139.0,2327 V2335 M1176.0,2327 V2335 M1213.0,2327 V2335 M1250.0,2327 V2335 M1287.0,2327 V2343 M1324.0,2327 V2335 M1361.0,2327 V2335 M1398.0,2327 V2335 M1435.0,2327 V2335 M1472.0,2327 V2343 M1509.0,2327 V2335 M1546.0,2327 V2335 M1583.0,2327 V2335 M1620.0,2327 V2335 M1657.0,2327 V2343 M1694.0,2327 V2335 M1731.0,2327 V2335 M1768.0,2327 V2335 M1805.0,2327 V2335 M1842.0,2327 V2343" stroke="#3a3a3a" stroke-width="4.5" fill="none"/><text x="177.0" y="2417" font-size="80" text-anchor="middle">15</text><text x="362.0" y="2417" font-size="80" text-anchor="middle">20</text><text x="547.0" y="2417" font-size="80" text-anchor="middle">25</text><text x="732.0" y="2417" font-size="80" text-anchor="middle">30</text><text x="917.0" y="2417" font-size="80" text-anchor="middle">35</text><text x="1102.0" y="2417" font-size="80" text-anchor="middle">40</text><text x="1287.0" y="2417" font-size="80" text-anchor="middle">45</text><text x="1472.0" y="2417" font-size="80" text-anchor="middle">50</text><text x="1657.0" y="2417" font-size="80" text-anchor="middle">55</text><text x="1842.0" y="2417" font-size="80" text-anchor="middle">60</text><text x="1009" y="2550" font-size="93" text-anchor="middle">2θ/deg.</text><text transform="translate(95,1168.8) rotate(-90)" x="0" y="0" font-size="92" text-anchor="middle">Intensity / a.u.</text><text x="1441.5" y="178" font-size="93">Gehlenite</text><text x="1232" y="394" font-size="84">VBA-BSG 950°C</text><text x="1246" y="941" font-size="84">VBA-SLG 950°C</text><text x="1415" y="1876" font-size="84">VBA 950°C</text><g fill="#ff8c00" stroke="#ff0000" stroke-width="4.8" stroke-linejoin="round"><path d="M1351.6,136.5 L1355.8,153.7 L1373.5,152.4 L1358.4,161.7 L1365.1,178.1 L1351.6,166.7 L1338.1,178.1 L1344.8,161.7 L1329.7,152.4 L1347.4,153.7Z"/><path d="M229.0,437.0 L233.2,454.2 L250.9,452.9 L235.8,462.2 L242.5,478.6 L229.0,467.2 L215.5,478.6 L222.2,462.2 L207.1,452.9 L224.8,454.2Z"/><path d="M272.6,425.2 L276.8,442.4 L294.5,441.1 L279.4,450.4 L286.1,466.8 L272.6,455.4 L259.1,466.8 L265.8,450.4 L250.7,441.1 L268.4,442.4Z"/><path d="M479.0,367.0 L483.2,384.2 L500.9,382.9 L485.8,392.2 L492.5,408.6 L479.0,397.2 L465.5,408.6 L472.2,392.2 L457.1,382.9 L474.8,384.2Z"/><path d="M561.3,369.7 L565.5,386.9 L583.2,385.6 L568.1,394.9 L574.8,411.3 L561.3,399.9 L547.8,411.3 L554.5,394.9 L539.4,385.6 L557.1,386.9Z"/><path d="M691.5,369.7 L695.7,386.9 L713.4,385.6 L698.3,394.9 L705.0,411.3 L691.5,399.9 L678.0,411.3 L684.7,394.9 L669.6,385.6 L687.3,386.9Z"/><path d="M785.4,285.5 L789.6,302.7 L807.3,301.4 L792.2,310.7 L798.9,327.1 L785.4,315.7 L771.9,327.1 L778.6,310.7 L763.5,301.4 L781.2,302.7Z"/><path d="M848.6,416.1 L852.8,433.3 L870.5,432.0 L855.4,441.3 L862.1,457.7 L848.6,446.3 L835.1,457.7 L841.8,441.3 L826.7,432.0 L844.4,433.3Z"/><path d="M923.9,400.7 L928.1,417.9 L945.8,416.6 L930.7,425.9 L937.4,442.3 L923.9,430.9 L910.4,442.3 L917.1,425.9 L902.0,416.6 L919.7,417.9Z"/><path d="M986.7,425.6 L990.9,442.8 L1008.6,441.5 L993.5,450.8 L1000.2,467.2 L986.7,455.8 L973.2,467.2 L979.9,450.8 L964.8,441.5 L982.5,442.8Z"/><path d="M1072.2,428.7 L1076.4,445.9 L1094.1,444.6 L1079.0,453.9 L1085.7,470.3 L1072.2,458.9 L1058.7,470.3 L1065.4,453.9 L1050.3,444.6 L1068.0,445.9Z"/><path d="M1262.6,422.2 L1266.8,439.4 L1284.5,438.1 L1269.4,447.4 L1276.1,463.8 L1262.6,452.4 L1249.1,463.8 L1255.8,447.4 L1240.7,438.1 L1258.4,439.4Z"/><path d="M1551.0,432.0 L1555.2,449.2 L1572.9,447.9 L1557.8,457.2 L1564.5,473.6 L1551.0,462.2 L1537.5,473.6 L1544.2,457.2 L1529.1,447.9 L1546.8,449.2Z"/><path d="M1591.9,456.2 L1596.1,473.4 L1613.8,472.1 L1598.7,481.4 L1605.4,497.8 L1591.9,486.4 L1578.4,497.8 L1585.1,481.4 L1570.0,472.1 L1587.7,473.4Z"/><path d="M785.0,520.5 L789.2,537.7 L806.9,536.4 L791.8,545.7 L798.5,562.1 L785.0,550.7 L771.5,562.1 L778.2,545.7 L763.1,536.4 L780.8,537.7Z"/><path d="M221.2,1035.4 L225.4,1052.6 L243.1,1051.3 L228.0,1060.6 L234.7,1077.0 L221.2,1065.6 L207.7,1077.0 L214.4,1060.6 L199.3,1051.3 L217.0,1052.6Z"/><path d="M269.2,970.0 L273.4,987.2 L291.1,985.9 L276.0,995.2 L282.7,1011.6 L269.2,1000.2 L255.7,1011.6 L262.4,995.2 L247.3,985.9 L265.0,987.2Z"/><path d="M400.7,1019.6 L404.9,1036.8 L422.6,1035.5 L407.5,1044.8 L414.2,1061.2 L400.7,1049.8 L387.2,1061.2 L393.9,1044.8 L378.8,1035.5 L396.5,1036.8Z"/><path d="M478.9,999.1 L483.1,1016.3 L500.8,1015.0 L485.7,1024.3 L492.4,1040.7 L478.9,1029.3 L465.4,1040.7 L472.1,1024.3 L457.0,1015.0 L474.7,1016.3Z"/><path d="M556.8,1000.7 L561.0,1017.9 L578.7,1016.6 L563.6,1025.9 L570.3,1042.3 L556.8,1030.9 L543.3,1042.3 L550.0,1025.9 L534.9,1016.6 L552.6,1017.9Z"/><path d="M695.6,937.0 L699.8,954.2 L717.5,952.9 L702.4,962.2 L709.1,978.6 L695.6,967.2 L682.1,978.6 L688.8,962.2 L673.7,952.9 L691.4,954.2Z"/><path d="M841.4,1048.4 L845.6,1065.6 L863.3,1064.3 L848.2,1073.6 L854.9,1090.0 L841.4,1078.6 L827.9,1090.0 L834.6,1073.6 L819.5,1064.3 L837.2,1065.6Z"/><path d="M938.4,1049.8 L942.6,1067.0 L960.3,1065.7 L945.2,1075.0 L951.9,1091.4 L938.4,1080.0 L924.9,1091.4 L931.6,1075.0 L916.5,1065.7 L934.2,1067.0Z"/><path d="M986.9,1018.8 L991.1,1036.0 L1008.8,1034.7 L993.7,1044.0 L1000.4,1060.4 L986.9,1049.0 L973.4,1060.4 L980.1,1044.0 L965.0,1034.7 L982.7,1036.0Z"/><path d="M1005.8,990.1 L1010.0,1007.3 L1027.7,1006.0 L1012.6,1015.3 L1019.3,1031.7 L1005.8,1020.3 L992.3,1031.7 L999.0,1015.3 L983.9,1006.0 L1001.6,1007.3Z"/><path d="M1072.4,996.1 L1076.6,1013.3 L1094.3,1012.0 L1079.2,1021.3 L1085.9,1037.7 L1072.4,1026.3 L1058.9,1037.7 L1065.6,1021.3 L1050.5,1012.0 L1068.2,1013.3Z"/><path d="M1270.7,1040.8 L1274.9,1058.0 L1292.6,1056.7 L1277.5,1066.0 L1284.2,1082.4 L1270.7,1071.0 L1257.2,1082.4 L1263.9,1066.0 L1248.8,1056.7 L1266.5,1058.0Z"/><path d="M1366.8,1077.8 L1371.0,1095.0 L1388.7,1093.7 L1373.6,1103.0 L1380.3,1119.4 L1366.8,1108.0 L1353.3,1119.4 L1360.0,1103.0 L1344.9,1093.7 L1362.6,1095.0Z"/><path d="M1468.4,1041.2 L1472.6,1058.4 L1490.3,1057.1 L1475.2,1066.4 L1481.9,1082.8 L1468.4,1071.4 L1454.9,1082.8 L1461.6,1066.4 L1446.5,1057.1 L1464.2,1058.4Z"/><path d="M1550.8,970.1 L1555.0,987.3 L1572.7,986.0 L1557.6,995.3 L1564.3,1011.7 L1550.8,1000.3 L1537.3,1011.7 L1544.0,995.3 L1528.9,986.0 L1546.6,987.3Z"/><path d="M1594.7,1053.3 L1598.9,1070.5 L1616.6,1069.2 L1601.5,1078.5 L1608.2,1094.9 L1594.7,1083.5 L1581.2,1094.9 L1587.9,1078.5 L1572.8,1069.2 L1590.5,1070.5Z"/><path d="M788.4,1143.5 L792.6,1160.7 L810.3,1159.4 L795.2,1168.7 L801.9,1185.1 L788.4,1173.7 L774.9,1185.1 L781.6,1168.7 L766.5,1159.4 L784.2,1160.7Z"/><path d="M224.5,2121.8 L228.7,2139.0 L246.4,2137.7 L231.3,2147.0 L238.0,2163.4 L224.5,2152.0 L211.0,2163.4 L217.7,2147.0 L202.6,2137.7 L220.3,2139.0Z"/><path d="M276.3,1972.2 L280.5,1989.4 L298.2,1988.1 L283.1,1997.4 L289.8,2013.8 L276.3,2002.4 L262.8,2013.8 L269.5,1997.4 L254.4,1988.1 L272.1,1989.4Z"/><path d="M400.0,2136.2 L404.2,2153.4 L421.9,2152.1 L406.8,2161.4 L413.5,2177.8 L400.0,2166.4 L386.5,2177.8 L393.2,2161.4 L378.1,2152.1 L395.8,2153.4Z"/><path d="M508.8,1984.3 L513.0,2001.5 L530.7,2000.2 L515.6,2009.5 L522.3,2025.9 L508.8,2014.5 L495.3,2025.9 L502.0,2009.5 L486.9,2000.2 L504.6,2001.5Z"/><path d="M575.7,2133.5 L579.9,2150.7 L597.6,2149.4 L582.5,2158.7 L589.2,2175.1 L575.7,2163.7 L562.2,2175.1 L568.9,2158.7 L553.8,2149.4 L571.5,2150.7Z"/><path d="M695.5,1966.1 L699.7,1983.3 L717.4,1982.0 L702.3,1991.3 L709.0,2007.7 L695.5,1996.3 L682.0,2007.7 L688.7,1991.3 L673.6,1982.0 L691.3,1983.3Z"/><path d="M833.1,2176.5 L837.3,2193.7 L855.0,2192.4 L839.9,2201.7 L846.6,2218.1 L833.1,2206.7 L819.6,2218.1 L826.3,2201.7 L811.2,2192.4 L828.9,2193.7Z"/><path d="M934.6,2146.3 L938.8,2163.5 L956.5,2162.2 L941.4,2171.5 L948.1,2187.9 L934.6,2176.5 L921.1,2187.9 L927.8,2171.5 L912.7,2162.2 L930.4,2163.5Z"/><path d="M983.8,2064.5 L988.0,2081.7 L1005.7,2080.4 L990.6,2089.7 L997.3,2106.1 L983.8,2094.7 L970.3,2106.1 L977.0,2089.7 L961.9,2080.4 L979.6,2081.7Z"/><path d="M1005.9,1984.3 L1010.1,2001.5 L1027.8,2000.2 L1012.7,2009.5 L1019.4,2025.9 L1005.9,2014.5 L992.4,2025.9 L999.1,2009.5 L984.0,2000.2 L1001.7,2001.5Z"/><path d="M1076.1,2061.5 L1080.3,2078.7 L1098.0,2077.4 L1082.9,2086.7 L1089.6,2103.1 L1076.1,2091.7 L1062.6,2103.1 L1069.3,2086.7 L1054.2,2077.4 L1071.9,2078.7Z"/><path d="M1267.0,2118.8 L1271.2,2136.0 L1288.9,2134.7 L1273.8,2144.0 L1280.5,2160.4 L1267.0,2149.0 L1253.5,2160.4 L1260.2,2144.0 L1245.1,2134.7 L1262.8,2136.0Z"/><path d="M1359.3,2180.1 L1363.5,2197.3 L1381.2,2196.0 L1366.1,2205.3 L1372.8,2221.7 L1359.3,2210.3 L1345.8,2221.7 L1352.5,2205.3 L1337.4,2196.0 L1355.1,2197.3Z"/><path d="M1479.7,2172.0 L1483.9,2189.2 L1501.6,2187.9 L1486.5,2197.2 L1493.2,2213.6 L1479.7,2202.2 L1466.2,2213.6 L1472.9,2197.2 L1457.8,2187.9 L1475.5,2189.2Z"/><path d="M1546.6,1988.8 L1550.8,2006.0 L1568.5,2004.7 L1553.4,2014.0 L1560.1,2030.4 L1546.6,2019.0 L1533.1,2030.4 L1539.8,2014.0 L1524.7,2004.7 L1542.4,2006.0Z"/><path d="M1587.9,2186.4 L1592.1,2203.6 L1609.8,2202.3 L1594.7,2211.6 L1601.4,2228.0 L1587.9,2216.6 L1574.4,2228.0 L1581.1,2211.6 L1566.0,2202.3 L1583.7,2203.6Z"/></g></svg>
</body></html>
